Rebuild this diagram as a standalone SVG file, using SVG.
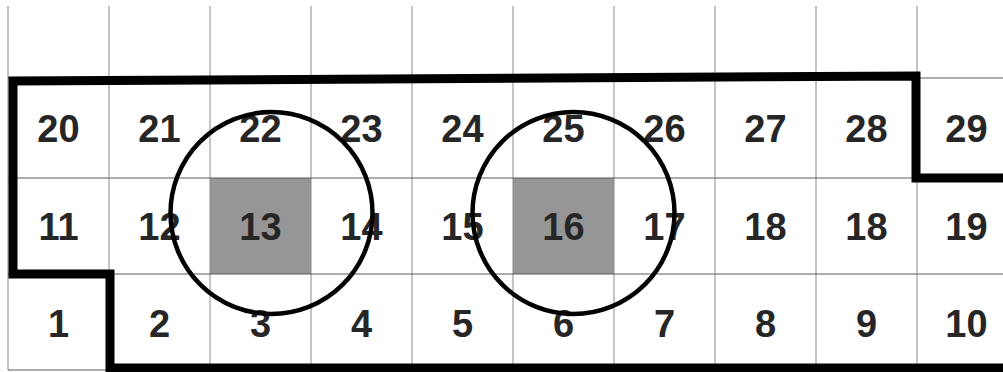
<svg xmlns="http://www.w3.org/2000/svg" width="1003" height="372" viewBox="0 0 1003 372">
<style>
.v{stroke:#8a8a8a;stroke-width:1}
.h{stroke:#5a5a5a;stroke-width:1}
.shade{fill:#969696}
.lbl{font-family:"Liberation Sans",Arial,sans-serif;font-weight:bold;font-size:38px;fill:#262626;text-anchor:middle}
.border{fill:none;stroke:#000;stroke-width:9;stroke-linejoin:miter}
.ring{fill:none;stroke:#000;stroke-width:4.5}
</style>
<rect width="1003" height="372" fill="#fff"/>
<g id="shading">
<rect class="shade" x="210" y="178" width="101" height="96"/>
<rect class="shade" x="513" y="178" width="101" height="96"/>
</g>
<g id="grid">
<line class="v" x1="8" y1="6" x2="8" y2="370"/>
<line class="v" x1="109" y1="6" x2="109" y2="370"/>
<line class="v" x1="210" y1="6" x2="210" y2="370"/>
<line class="v" x1="311" y1="6" x2="311" y2="370"/>
<line class="v" x1="412" y1="6" x2="412" y2="370"/>
<line class="v" x1="513" y1="6" x2="513" y2="370"/>
<line class="v" x1="614" y1="6" x2="614" y2="370"/>
<line class="v" x1="715" y1="6" x2="715" y2="370"/>
<line class="v" x1="816" y1="6" x2="816" y2="370"/>
<line class="v" x1="917" y1="6" x2="917" y2="370"/>
<line class="h" x1="8" y1="78" x2="1003" y2="78"/>
<line class="h" x1="8" y1="178" x2="1003" y2="178"/>
<line class="h" x1="8" y1="274" x2="1003" y2="274"/>
<line class="h" x1="8" y1="370" x2="1003" y2="370"/>
</g>
<g id="labels">
<g id="row-top">
<text class="lbl" x="58.5" y="141.5">20</text>
<text class="lbl" x="159.5" y="141.5">21</text>
<text class="lbl" x="260.5" y="141.5">22</text>
<text class="lbl" x="361.5" y="141.5">23</text>
<text class="lbl" x="462.5" y="141.5">24</text>
<text class="lbl" x="563.5" y="141.5">25</text>
<text class="lbl" x="664.5" y="141.5">26</text>
<text class="lbl" x="765.5" y="141.5">27</text>
<text class="lbl" x="866.5" y="141.5">28</text>
<text class="lbl" x="966.5" y="141.5">29</text>
</g>
<g id="row-mid">
<text class="lbl" x="58.5" y="240">11</text>
<text class="lbl" x="159.5" y="240">12</text>
<text class="lbl" x="260.5" y="240">13</text>
<text class="lbl" x="361.5" y="240">14</text>
<text class="lbl" x="462.5" y="240">15</text>
<text class="lbl" x="563.5" y="240">16</text>
<text class="lbl" x="664.5" y="240">17</text>
<text class="lbl" x="765.5" y="240">18</text>
<text class="lbl" x="866.5" y="240">18</text>
<text class="lbl" x="966.5" y="240">19</text>
</g>
<g id="row-bottom">
<text class="lbl" x="58.5" y="336.5">1</text>
<text class="lbl" x="159.5" y="336.5">2</text>
<text class="lbl" x="260.5" y="336.5">3</text>
<text class="lbl" x="361.5" y="336.5">4</text>
<text class="lbl" x="462.5" y="336.5">5</text>
<text class="lbl" x="563.5" y="336.5">6</text>
<text class="lbl" x="664.5" y="336.5">7</text>
<text class="lbl" x="765.5" y="336.5">8</text>
<text class="lbl" x="866.5" y="336.5">9</text>
<text class="lbl" x="966.5" y="336.5">10</text>
</g>
</g>
<g id="region-border">
<polyline class="border" points="1003,178 916,178 916,76 13,81 13,274 110,274 110,368 1003,368"/>
</g>
<g id="circles">
<circle id="circle-13" class="ring" cx="271.5" cy="213" r="101"/>
<circle id="circle-16" class="ring" cx="573.5" cy="213" r="101"/>
</g>
</svg>
